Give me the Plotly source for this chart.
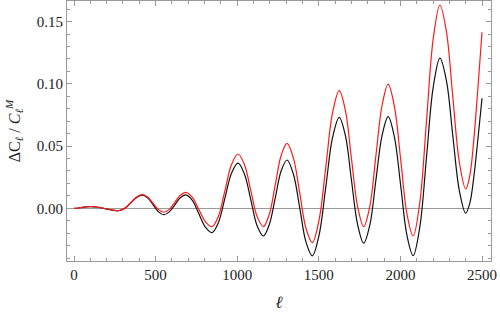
import plotly.graph_objects as go

# multipole values
ell = [0, 25, 50, 75, 100, 144, 188, 231, 275, 311, 348, 384, 420, 452, 485, 518,
       550, 584, 618, 651, 685, 725, 765, 805, 845, 885, 925, 965, 1005, 1044,
       1083, 1121, 1160, 1196, 1233, 1269, 1305, 1344, 1383, 1421, 1460, 1501,
       1543, 1584, 1625, 1663, 1700, 1738, 1775, 1813, 1850, 1888, 1925, 1963,
       2002, 2040, 2078, 2119, 2160, 2201, 2242, 2282, 2321, 2361, 2400, 2425,
       2450, 2475, 2500]

# black curve
dcl_black = [0.0, 0.0002, 0.0007, 0.0011, 0.0013,
             0.0008, -0.0004, -0.0015, -0.0020,
             -0.0002, 0.0043, 0.0087, 0.0105,
             0.0082, 0.0027, -0.0029, -0.0052,
             -0.0029, 0.0028, 0.0085, 0.0108,
             0.0064, -0.0044, -0.0152, -0.0196,
             -0.0114, 0.0083, 0.0281, 0.0362,
             0.0276, 0.0070, -0.0138, -0.0223,
             -0.0134, 0.0083, 0.0299, 0.0388,
             0.0275, 0.0003, -0.0270, -0.0383,
             -0.0220, 0.0174, 0.0568, 0.0731,
             0.0583, 0.0225, -0.0133, -0.0281,
             -0.0132, 0.0228, 0.0588, 0.0736,
             0.0573, 0.0178, -0.0218, -0.0381,
             -0.0149, 0.0413, 0.0974, 0.1206,
             0.1024, 0.0583, 0.0142, -0.0040,
             0.0039, 0.0254, 0.0559, 0.0884]

# red curve
dcl_red = [0.0, 0.0002, 0.0007, 0.0011, 0.0014,
           0.0009, -0.0002, -0.0013, -0.0018,
           0.0001, 0.0046, 0.0091, 0.0110,
           0.0089, 0.0039, -0.0011, -0.0032,
           -0.0009, 0.0048, 0.0105, 0.0128,
           0.0088, -0.0010, -0.0108, -0.0148,
           -0.0063, 0.0144, 0.0351, 0.0436,
           0.0351, 0.0144, -0.0063, -0.0148,
           -0.0050, 0.0187, 0.0424, 0.0522,
           0.0405, 0.0123, -0.0160, -0.0276,
           -0.0097, 0.0335, 0.0767, 0.0945,
           0.0785, 0.0399, 0.0012, -0.0148,
           0.0020, 0.0425, 0.0830, 0.0997,
           0.0818, 0.0387, -0.0045, -0.0223,
           0.0049, 0.0706, 0.1363, 0.1634,
           0.1418, 0.0895, 0.0371, 0.0155,
           0.0262, 0.0556, 0.0971, 0.1415]

xticks = [0, 500, 1000, 1500, 2000, 2500]
yticks = [0.0, 0.05, 0.10, 0.15]
ytick_labels = ["0.00", "0.05", "0.10", "0.15"]

fig = go.Figure()
fig.add_trace(go.Scatter(x=ell, y=dcl_black, mode="lines", hoverinfo="skip",
                         line=dict(color="#111111", width=1.2, shape="spline", smoothing=1.0)))
fig.add_trace(go.Scatter(x=ell, y=dcl_red, mode="lines", hoverinfo="skip",
                         line=dict(color="#ff1a1a", width=1.2, shape="spline", smoothing=1.0)))

axis_common = dict(
    showline=True, linecolor="#9a9a9a", linewidth=1, mirror="allticks",
    ticks="inside", tickcolor="#9a9a9a", ticklen=5, showgrid=False,
    automargin=False,
    tickfont=dict(family="Liberation Serif", size=15, color="#222222"),
)

fig.update_xaxes(range=[-43, 2555], tickvals=xticks, zeroline=False,
                 minor=dict(ticks="inside", ticklen=3, tickcolor="#9a9a9a", dtick=100, tick0=0),
                 title=dict(text="<i>ℓ</i>", standoff=16,
                            font=dict(family="Liberation Serif", size=17, color="#222222")),
                 **axis_common)
fig.update_yaxes(range=[-0.0424, 0.1666], tickvals=yticks, ticktext=ytick_labels,
                 zeroline=True, zerolinecolor="#9a9a9a", zerolinewidth=1,
                 minor=dict(ticks="inside", ticklen=3, tickcolor="#9a9a9a", dtick=0.01, tick0=0),
                 title=dict(text="ΔC<sub><i>ℓ</i></sub> / <i>C</i><sub><i>ℓ</i></sub><sup><i>M</i></sup>",
                            standoff=12,
                            font=dict(family="Liberation Serif", size=16, color="#222222")),
                 **axis_common)

fig.update_layout(
    width=500, height=312,
    margin=dict(l=67, r=9, t=1, b=51),
    paper_bgcolor="white", plot_bgcolor="white",
    showlegend=False,
)

# the page's default body margin would shift the chart by 8px
fig.write_html("out.html", config={"displayModeBar": False},
               post_script="document.body.style.margin='0px';")
